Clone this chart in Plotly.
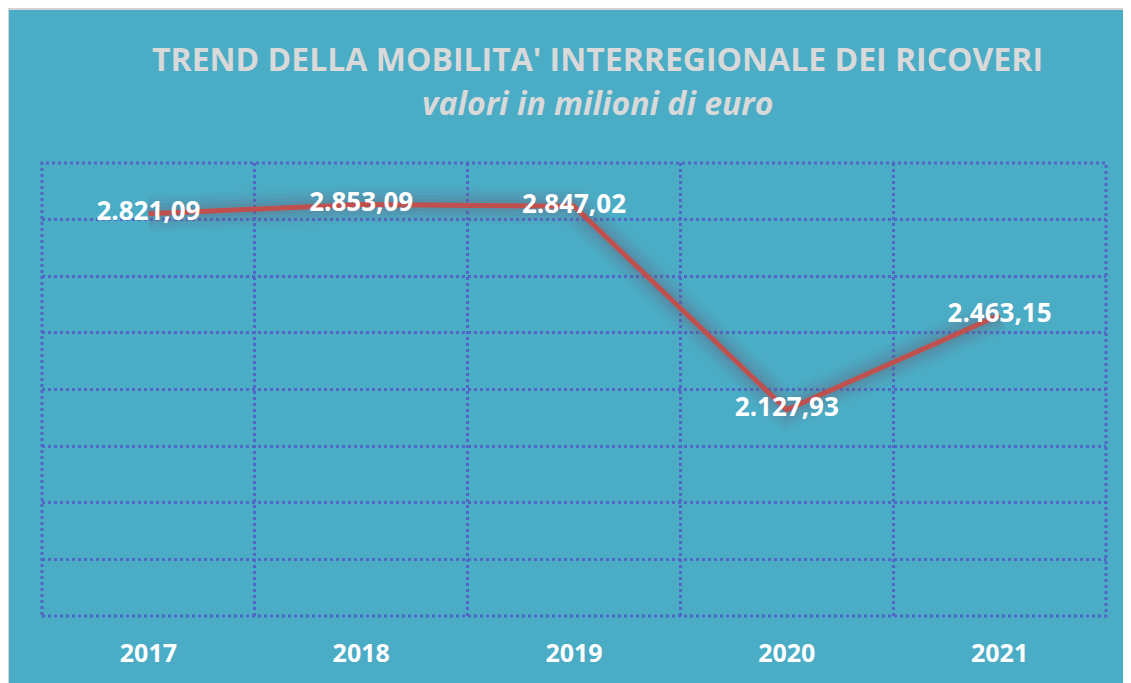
import plotly.graph_objects as go

# ── Data ────────────────────────────────────────────────────────────────
years = ["2017", "2018", "2019", "2020", "2021"]
values = [2821.09, 2853.09, 2847.02, 2127.93, 2463.15]
labels = ["2.821,09", "2.853,09", "2.847,02", "2.127,93", "2.463,15"]

TEAL = "#4BACC6"
GRID = "#5266C6"
RED = "#C0504D"
FONT = "Open Sans, sans-serif"

# page is shown with the default 8px body margin -> work in page pixels
OFF = 8
W, H = 1131 - OFF, 683 - OFF
L, R, T, B = 42 - OFF, 25, 163 - OFF, 67
PW, PH = W - L - R, H - T - B


def px_x(px):
    return (px - OFF - L) / PW


def px_y(py):
    return (H - B - (py - OFF)) / PH


fig = go.Figure()

# soft glow under the line
for w, a in [(36, 0.06), (28, 0.08), (20, 0.10), (12, 0.14)]:
    fig.add_trace(go.Scatter(
        x=years, y=values, mode="lines",
        line=dict(color=f"rgba(110,95,115,{a})", width=w),
        hoverinfo="skip", showlegend=False,
    ))

fig.add_trace(go.Scatter(
    x=years, y=values, mode="lines",
    line=dict(color=RED, width=5),
    showlegend=False,
))

fig.add_trace(go.Scatter(
    x=years, y=values, mode="text",
    text=labels, textposition="middle center",
    textfont=dict(family=FONT, size=26, color="white", weight="bold"),
    showlegend=False, hoverinfo="skip",
))

shapes = [
    # grey frame edge + teal card
    dict(type="rect", xref="paper", yref="paper", layer="below",
         x0=px_x(OFF), x1=px_x(1131 + 10), y0=px_y(700), y1=px_y(OFF),
         fillcolor="#D4D4D4", line=dict(width=0)),
    dict(type="rect", xref="paper", yref="paper", layer="below",
         x0=px_x(OFF + 1), x1=px_x(1131 + 10), y0=px_y(700), y1=px_y(10),
         fillcolor=TEAL, line=dict(width=0)),
    # dotted plot frame
    dict(type="rect", xref="paper", yref="paper", layer="below",
         x0=0, x1=1, y0=0, y1=1,
         line=dict(color=GRID, width=3, dash="dot")),
]

annotations = [
    dict(text="<b>TREND DELLA MOBILITA' INTERREGIONALE DEI RICOVERI</b>",
         xref="paper", yref="paper", x=px_x(597), y=px_y(59),
         xanchor="center", yanchor="middle", showarrow=False,
         font=dict(family=FONT, size=32, color="#D9D9D9")),
    dict(text="<b><i>valori in milioni di euro</i></b>",
         xref="paper", yref="paper", x=px_x(598), y=px_y(102),
         xanchor="center", yanchor="middle", showarrow=False,
         font=dict(family=FONT, size=32, color="#D9D9D9")),
]

fig.update_layout(
    width=W, height=H,
    margin=dict(l=L, r=R, t=T, b=B, pad=0),
    paper_bgcolor="white",
    plot_bgcolor=TEAL,
    shapes=shapes,
    annotations=annotations,
    xaxis=dict(
        type="category",
        tickson="boundaries",
        showgrid=True, gridcolor=GRID, gridwidth=3, griddash="dot",
        showline=False, zeroline=False, ticks="",
        tickfont=dict(family=FONT, size=25, color="white", weight="bold"),
        ticklabelstandoff=20,
        range=[-0.5, 4.5],
    ),
    yaxis=dict(
        range=[1400, 3000], dtick=200,
        showgrid=True, gridcolor=GRID, gridwidth=3, griddash="dot",
        showticklabels=False, zeroline=False, showline=False, ticks="",
    ),
)

fig.write_html("out.html")
